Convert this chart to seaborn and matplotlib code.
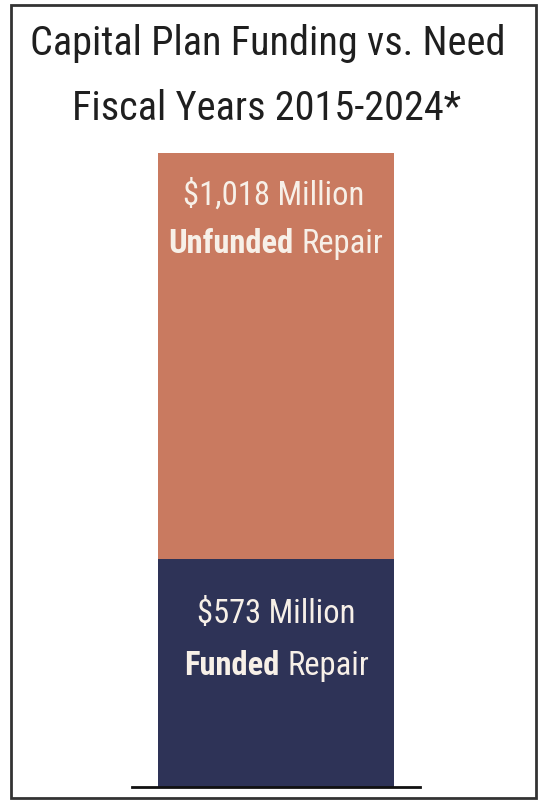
import matplotlib
matplotlib.use("Agg")
import matplotlib.pyplot as plt
import seaborn as sns
import pandas as pd
from matplotlib.patches import Rectangle

sns.set_theme(style="white")
plt.rcParams['font.family'] = ['Roboto Condensed', 'Liberation Sans Narrow', 'DejaVu Sans']
plt.rcParams['font.stretch'] = 'condensed'

# ---- data ----
categories = ["FY 2015-2024"]
funded = [573]
unfunded = [1018]
title_lines = ["Capital Plan Funding vs. Need", "Fiscal Years 2015-2024*"]
unfunded_labels = ["$1,018 Million", "Unfunded", "Repair"]
funded_labels = ["$573 Million", "Funded", "Repair"]

total = [f + u for f, u in zip(funded, unfunded)]
df = pd.DataFrame({"cat": categories, "funded": funded, "total": total})

W, H = 539, 801
fig = plt.figure(figsize=(W / 100, H / 100), dpi=100)
fig.patch.set_facecolor("white")

def fx(px):
    return px / W

def fy(py):
    return 1 - py / H

# axes: x from 132 to 420 px, y from 153 (top) to 787 (baseline)
ax = fig.add_axes([fx(132), fy(787), fx(420) - fx(132), fy(153) - fy(787)])
bar_w = (393 - 157) / (420 - 132)
sns.barplot(data=df, x="cat", y="total", color="#C97A60", width=bar_w,
            saturation=1, ax=ax, linewidth=0)
sns.barplot(data=df, x="cat", y="funded", color="#2E3357", width=bar_w,
            saturation=1, ax=ax, linewidth=0)
ax.set_xlim(-0.5, 0.5)
ax.set_ylim(0, total[0])
ax.set_xlabel("")
ax.set_ylabel("")
ax.set_xticks([])
ax.set_yticks([])
for s in ["top", "left", "right"]:
    ax.spines[s].set_visible(False)
ax.spines["bottom"].set_color("#111111")
ax.spines["bottom"].set_linewidth(2)
ax.patch.set_alpha(0)

# border
fig.patches.append(Rectangle((fx(11), fy(798)), fx(536) - fx(11), fy(5) - fy(798),
                             transform=fig.transFigure, fill=False,
                             edgecolor="#333333", linewidth=2))

tc = "#1f1f1f"
tfs = 29
fig.text(fx(268), fy(55), title_lines[0], ha="center", va="baseline",
         fontsize=tfs, color=tc)
fig.text(fx(267), fy(120), title_lines[1], ha="center", va="baseline",
         fontsize=tfs, color=tc)

lc = "#F7F0E8"
lfs = 23.5
renderer = fig.canvas.get_renderer()

def two_part(cx, base, bold_txt, reg_txt, gap=8):
    t1 = fig.text(0, fy(base), bold_txt, ha="left", va="baseline",
                  fontsize=lfs, color=lc, fontweight="bold")
    t2 = fig.text(0, fy(base), reg_txt, ha="left", va="baseline",
                  fontsize=lfs, color=lc)
    w1 = t1.get_window_extent(renderer).width
    w2 = t2.get_window_extent(renderer).width
    start = cx - (w1 + gap + w2) / 2
    t1.set_x(fx(start))
    t2.set_x(fx(start + w1 + gap))

fig.text(fx(274), fy(205), unfunded_labels[0], ha="center", va="baseline",
         fontsize=lfs, color=lc)
two_part(276, 253, unfunded_labels[1], unfunded_labels[2])

fig.text(fx(276), fy(623), funded_labels[0], ha="center", va="baseline",
         fontsize=lfs, color=lc)
two_part(277, 675, funded_labels[1], funded_labels[2])

fig.savefig("out.png", dpi=100, facecolor="white")
